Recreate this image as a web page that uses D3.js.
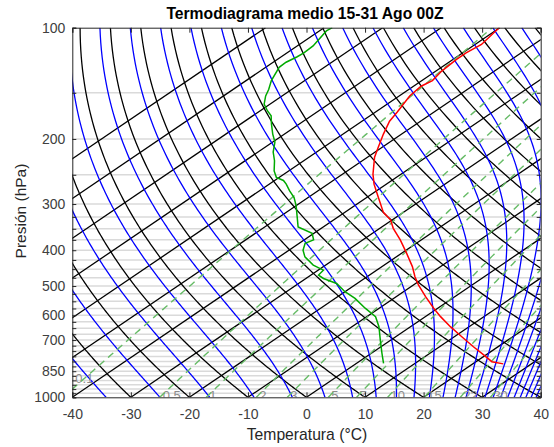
<!DOCTYPE html>
<html>
<head>
<meta charset="utf-8">
<script src="https://cdn.jsdelivr.net/npm/d3@7"></script>
<style>
  body { margin: 0; background: #fff; }
  text { font-family: "Liberation Sans", Arial, sans-serif; }
</style>
</head>
<body>
<svg id="chart" width="554" height="447"></svg>
<script>
// sounding: temperature profile (red)
var tempP = [812, 801, 768, 730, 686, 644, 605, 574, 534, 497, 472, 443, 408, 375, 349, 331, 316, 288, 265, 249, 224, 211, 194, 179, 169, 153, 144, 139, 131, 122, 117, 111, 100];
var tempT = [25.2, 22.7, 19.6, 15.8, 11.3, 6.8, 2.6, -0.7, -5.0, -9.1, -11.8, -14.8, -19.1, -23.6, -27.7, -30.3, -33.4, -38.0, -42.1, -44.8, -48.8, -50.6, -53.1, -55.3, -56.3, -58.2, -58.7, -58.2, -59.0, -59.4, -59.4, -58.9, -60.1];

// sounding: dew point profile (green)
var dewP = [809, 760, 700, 644, 605, 574, 540, 518, 492, 477, 467, 453, 439, 417, 400, 383, 375, 360, 346, 331, 303, 288, 276, 265, 259, 254, 244, 229, 217, 204, 194, 182, 173, 168, 161, 153, 147, 139, 128, 124, 120, 117, 112, 102, 100];
var dewT = [4.6, 1.8, -1.8, -5.4, -8.5, -12.4, -16.6, -20.0, -23.5, -27.0, -28.7, -29.1, -32.1, -35.6, -37.6, -39.0, -38.4, -40.3, -44.3, -46.2, -50.0, -52.4, -54.9, -57.1, -58.5, -60.5, -62.5, -65.0, -67.4, -69.6, -72.0, -74.8, -76.9, -78.7, -81.0, -82.8, -83.9, -85.7, -87.7, -87.8, -87.3, -87.1, -87.3, -88.8, -88.6];

// background lines of the diagram
var isotherms = [-100, -90, -80, -70, -60, -50, -40, -30, -20, -10, 0, 10, 20, 30, 40];
var dryAdiabats = [-40, -30, -20, -10, 0, 10, 20, 30, 40, 50, 60, 70, 80, 90, 100, 110, 120, 130, 140, 150, 160]; // theta, degC
var moistAdiabats = [239.5, 249.5, 259.5, 269.5, 279.5, 289.5, 299.5, 309.5, 319.5, 329.5, 339.5, 349.5, 359.5, 369.5, 379.5, 389.5, 399.5, 409.5, 419.5, 429.5, 439.5, 449.5, 459.5, 469.5, 479.5, 489.5]; // theta-e, K
var mixRatios = [0.1, 0.5, 1, 2, 3, 5, 7, 10, 15, 22, 30]; // g/kg

var gridP = [150, 200, 250, 300, 325, 350, 375, 400, 425, 450, 475, 500, 525, 550, 575, 600, 625, 650, 675, 700, 725, 750, 775, 800, 825, 850, 875, 900, 925, 950, 975];
var yTicks = [100, 150, 200, 250, 300, 325, 350, 375, 400, 425, 450, 475, 500, 525, 550, 575, 600, 625, 650, 675, 700, 725, 750, 775, 800, 825, 850, 875, 900, 925, 950, 975, 1000];
var yLabels = [100, 200, 300, 400, 500, 600, 700, 850, 1000];
var xTicks = [-40, -30, -20, -10, 0, 10, 20, 30, 40];

var skew = 93; // degC per decade of pressure

var plotL = 72.3, plotR = 540.7, plotT = 27.7, plotB = 397.3;

var svg = d3.select('#chart');

var x = d3.scaleLinear().domain([-40, 40]).range([plotL, plotR]);
var y = d3.scaleLog().domain([100, 1000]).range([plotT, plotB]);

function X(T, p) { return x(T + skew * Math.log10(1000 / p)); }

var pLevels = d3.range(1000, 99, -5);

var line = d3.line()
  .x(function(d) { return X(d.T, d.p); })
  .y(function(d) { return y(d.p); });

svg.append('defs').append('clipPath').attr('id', 'clip')
  .append('rect')
  .attr('x', plotL).attr('y', plotT)
  .attr('width', plotR - plotL).attr('height', plotB - plotT);

var plot = svg.append('g').attr('clip-path', 'url(#clip)');

// horizontal grey lines
plot.selectAll('.grid')
  .data(gridP)
  .enter().append('line')
  .attr('x1', plotL).attr('x2', plotR)
  .attr('y1', function(d) { return y(d); })
  .attr('y2', function(d) { return y(d); })
  .attr('stroke', '#dadada')
  .attr('stroke-width', 1.5);

// dewpoint for a mixing ratio (g/kg) at pressure p
function tdFromW(w, p) {
  var e = w * p / (622 + w);
  var l = Math.log(e / 6.112);
  return 243.5 * l / (17.67 - l);
}

function thetaE(Tk, p) {
  var Tc = Tk - 273.15;
  var es = 6.112 * Math.exp(17.67 * Tc / (Tc + 243.5));
  if (es > p * 0.5) return 1e6;
  var r = 622 * es / (p - es);
  return Tk * Math.pow(1000 / p, 0.2854 * (1 - 0.00028 * r)) *
    Math.exp((3.376 / Tk - 0.00254) * r * (1 + 0.00081 * r));
}

function moistT(te, p) {
  var lo = 120, hi = 360;
  for (var i = 0; i < 50; i++) {
    var mid = (lo + hi) / 2;
    if (thetaE(mid, p) > te) hi = mid; else lo = mid;
  }
  return (lo + hi) / 2 - 273.15;
}

// dry adiabats
dryAdiabats.forEach(function(th) {
  var pts = pLevels.map(function(p) {
    return { p: p, T: (th + 273.15) * Math.pow(p / 1000, 0.2857) - 273.15 };
  });
  plot.append('path').attr('d', line(pts))
    .attr('fill', 'none').attr('stroke', '#000').attr('stroke-width', 1.3);
});

// isotherms
isotherms.forEach(function(t) {
  var pts = [{ p: 1000, T: t }, { p: 100, T: t }];
  plot.append('path').attr('d', line(pts))
    .attr('fill', 'none').attr('stroke', '#000').attr('stroke-width', 1.3);
});

// moist adiabats
moistAdiabats.forEach(function(te) {
  var pts = pLevels.map(function(p) { return { p: p, T: moistT(te, p) }; });
  plot.append('path').attr('d', line(pts))
    .attr('fill', 'none').attr('stroke', '#0000ff').attr('stroke-width', 1.3);
});

// mixing ratio labels
mixRatios.forEach(function(w) {
  var lx = X(tdFromW(w, 1000), 1000) + 3;
  var ly = y(1000) - 2;
  if (lx < plotL + 3) { lx = plotL + 3; ly = y(890); }
  plot.append('text')
    .attr('x', lx).attr('y', ly).attr('dy', '0.35em')
    .attr('fill', '#8c8c8c')
    .style('font-size', '13px')
    .text(w);
});

// mixing ratio lines
mixRatios.forEach(function(w) {
  var pts = pLevels.map(function(p) { return { p: p, T: tdFromW(w, p) }; });
  plot.append('path').attr('d', line(pts))
    .attr('fill', 'none').attr('stroke', '#66bb66').attr('stroke-width', 1.4)
    .attr('stroke-dasharray', '7,5');
});

// profiles
var tempData = tempP.map(function(p, i) { return { p: p, T: tempT[i] }; });
var dewData = dewP.map(function(p, i) { return { p: p, T: dewT[i] }; });

plot.append('path').attr('d', line(tempData))
  .attr('fill', 'none').attr('stroke', '#ff0000').attr('stroke-width', 1.5);
plot.append('path').attr('d', line(dewData))
  .attr('fill', 'none').attr('stroke', '#00aa00').attr('stroke-width', 1.5);

// axes
var axisColor = '#262626';

var xAxis = d3.axisBottom(x).tickValues(xTicks).tickSize(-5).tickPadding(12)
  .tickFormat(function(d) { return String(d); });
var gx = svg.append('g').attr('transform', 'translate(0,' + plotB + ')').call(xAxis);
var gxTop = svg.append('g').attr('transform', 'translate(0,' + plotT + ')')
  .call(d3.axisTop(x).tickValues(xTicks).tickSize(-5).tickFormat(''));

var yAxis = d3.axisLeft(y).tickValues(yTicks).tickSize(-4).tickPadding(7)
  .tickFormat(function(d) { return yLabels.indexOf(d) >= 0 ? String(d) : ''; });
var gy = svg.append('g').attr('transform', 'translate(' + plotL + ',0)').call(yAxis);
var gyRight = svg.append('g').attr('transform', 'translate(' + plotR + ',0)')
  .call(d3.axisRight(y).tickValues(yTicks).tickSize(-4).tickFormat(''));

[gx, gxTop, gy, gyRight].forEach(function(g) {
  g.select('.domain').attr('stroke', axisColor).attr('stroke-width', 1);
  g.selectAll('.tick line').attr('stroke', axisColor);
  g.selectAll('.tick text').attr('fill', '#404040')
    .style('font-size', '14px').style('font-family', '"Liberation Sans", Arial, sans-serif');
});

// titles
svg.append('text')
  .attr('x', 305).attr('y', 19)
  .attr('text-anchor', 'middle')
  .style('font-size', '15.7px').style('font-weight', 'bold')
  .attr('fill', '#000')
  .text('Termodiagrama medio 15-31 Ago 00Z');

svg.append('text')
  .attr('x', 307).attr('y', 440)
  .attr('text-anchor', 'middle')
  .style('font-size', '15.7px')
  .attr('fill', '#262626')
  .text('Temperatura (°C)');

svg.append('text')
  .attr('transform', 'translate(26,211) rotate(-90)')
  .attr('text-anchor', 'middle')
  .style('font-size', '15.5px')
  .attr('fill', '#262626')
  .text('Presión (hPa)');
</script>
</body>
</html>
